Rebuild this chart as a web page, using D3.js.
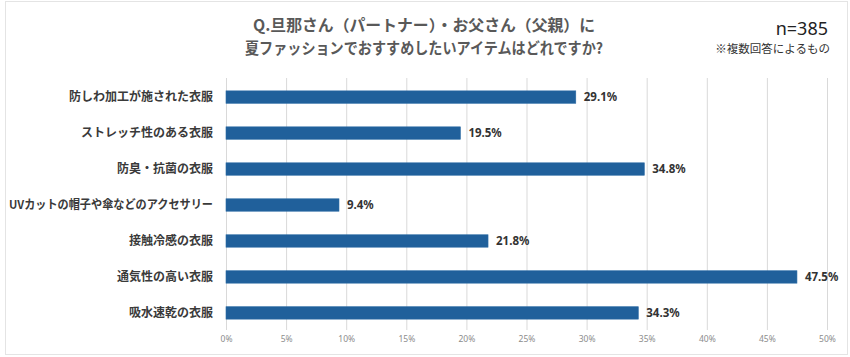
<!DOCTYPE html>
<html><head><meta charset="utf-8">
<script src="https://cdn.jsdelivr.net/npm/d3@7"></script>
<style>
html,body{margin:0;padding:0;background:#fff;}
svg{display:block;font-family:"Noto Sans CJK JP","Noto Sans",sans-serif;}
</style></head>
<body><svg id="c" width="850" height="357"></svg>
<script>
const categories = ["防しわ加工が施された衣服","ストレッチ性のある衣服","防臭・抗菌の衣服","UVカットの帽子や傘などのアクセサリー","接触冷感の衣服","通気性の高い衣服","吸水速乾の衣服"];
const values = [29.1, 19.5, 34.8, 9.4, 21.8, 47.5, 34.3];
const ticks = [0,5,10,15,20,25,30,35,40,45,50];
const titleLines = ["Q.旦那さん（パートナー）・お父さん（父親）に","夏ファッションでおすすめしたいアイテムはどれですか?"];
const sampleText = "n=385";
const noteText = "※複数回答によるもの";

const svg = d3.select("#c");
svg.append("rect").attr("x",5.5).attr("y",1.5).attr("width",842).attr("height",353)
  .attr("fill","#fff").attr("stroke","#e4e4e4");

const x = d3.scaleLinear().domain([0,50]).range([226,827]);
const y = d3.scaleBand().domain(categories).range([79,331]).paddingInner(0.655).paddingOuter(0.33);

// gridlines
svg.append("g").selectAll("line").data(ticks).join("line")
  .attr("x1",d=>x(d)+0.5).attr("x2",d=>x(d)+0.5).attr("y1",78).attr("y2",330)
  .attr("stroke","#d9d9d9").attr("stroke-width",1);

// axis labels
const ax = d3.axisBottom(x).tickValues(ticks).tickFormat(d=>d+"%").tickSize(0).tickPadding(0);
const axg = svg.append("g").attr("transform","translate(0,336)").call(ax);
axg.select(".domain").remove();
axg.selectAll("text").attr("font-size",8.5).attr("fill","#8c8c8c").attr("dy","0.75em")
  .attr("font-family","'Noto Sans',sans-serif");

// bars
svg.append("g").selectAll("rect").data(values).join("rect")
  .attr("x",x(0)).attr("y",(d,i)=>y(categories[i]))
  .attr("width",d=>x(d)-x(0)).attr("height",y.bandwidth())
  .attr("fill","#20609b").attr("stroke","#2a6aa4").attr("stroke-width",0.6);

// value labels
svg.append("g").selectAll("text").data(values).join("text")
  .attr("x",d=>x(d)+8).attr("y",(d,i)=>y(categories[i])+y.bandwidth()/2)
  .attr("dy","0.36em").attr("font-size",11.5).attr("font-weight","bold").attr("fill","#333")
  .attr("font-family","'Noto Sans',sans-serif")
  .text(d=>d.toFixed(1)+"%");

// category labels
const maxLabelW = 204;
svg.append("g").selectAll("text").data(categories).join("text")
  .attr("x",213).attr("y",d=>y(d)+y.bandwidth()/2).attr("dy","0.36em")
  .attr("text-anchor","end").attr("font-size",12).attr("font-weight","bold").attr("fill","#3a3a3a")
  .text(d=>d)
  .each(function(){
    if (this.getComputedTextLength() > maxLabelW) {
      d3.select(this).attr("textLength",maxLabelW).attr("lengthAdjust","spacingAndGlyphs");
    }
  });

// title
const tw = [342, 358];
svg.append("g").selectAll("text").data(titleLines).join("text")
  .attr("x",424).attr("y",(d,i)=>25+i*23.5).attr("dy","0.36em").attr("text-anchor","middle")
  .attr("font-size",15.5).attr("font-weight","bold").attr("fill","#595959")
  .attr("textLength",(d,i)=>tw[i]).attr("lengthAdjust","spacingAndGlyphs")
  .text(d=>d);

svg.append("text").attr("x",828).attr("y",29).attr("dy","0.36em").attr("text-anchor","end")
  .attr("font-size",18).attr("fill","#222").attr("font-family","'Noto Sans',sans-serif").text(sampleText);
svg.append("text").attr("x",830).attr("y",48.5).attr("dy","0.36em").attr("text-anchor","end")
  .attr("font-size",11.5).attr("fill","#333").text(noteText);
</script></body></html>
